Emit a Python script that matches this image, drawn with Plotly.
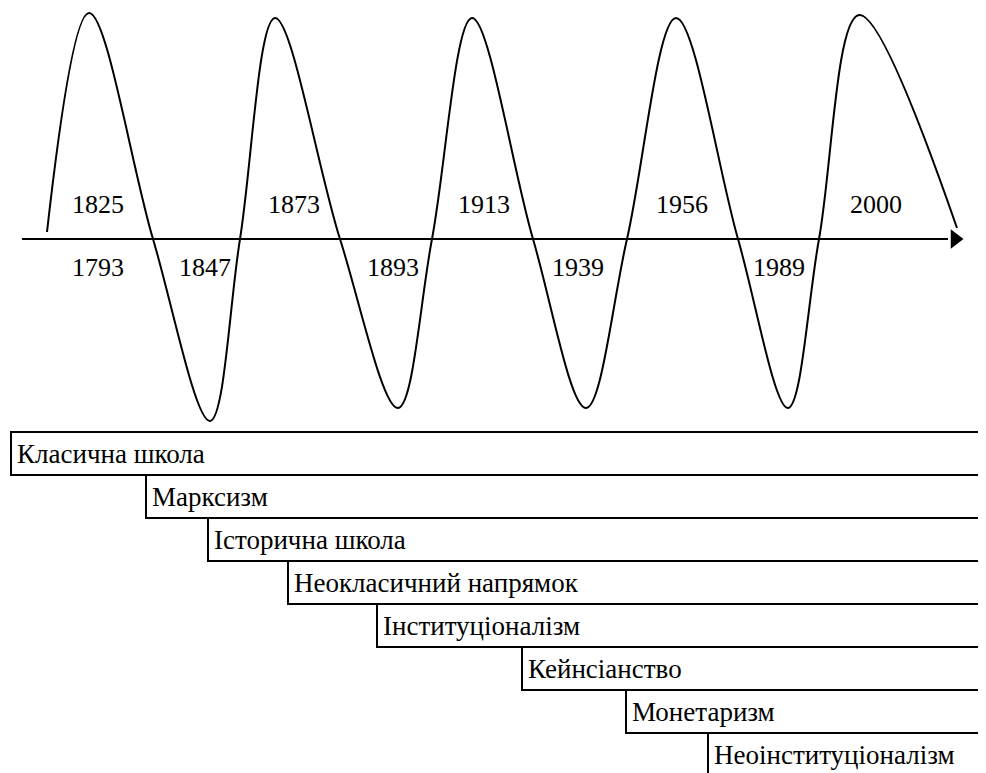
import plotly.graph_objects as go

# Wave key points (diagram units: x to the right, y downward as on the page)
wave_x = [47, 89, 153, 210, 240, 275, 340, 398, 432, 472, 533, 586, 627, 676, 738, 788, 819, 859, 957]
wave_y = [232, 13, 239, 421, 239, 18, 239, 408, 239, 18, 239, 408, 239, 18, 239, 408, 239, 15, 228]

axis_y = 239
axis_x = [22, 948]
arrow_tip = 955

years_top = ["1825", "1873", "1913", "1956", "2000"]
years_top_x = [98, 294, 484, 682, 876]
years_bottom = ["1793", "1847", "1893", "1939", "1989"]
years_bottom_x = [98, 205, 393, 578, 779]
top_label_y = 204
bottom_label_y = 267

schools = ["Класична школа", "Марксизм", "Історична школа", "Неокласичний напрямок",
           "Інституціоналізм", "Кейнсіанство", "Монетаризм", "Неоінституціоналізм"]
school_start = [11, 146, 208, 288, 377, 522, 626, 708]
row_top = 432
row_h = 43

W, H = 986, 773
OFF = 8  # page body margin
year_font = dict(family="Liberation Serif", size=26, color="black")
school_font = dict(family="Liberation Serif", size=27, color="black")

fig = go.Figure()
fig.add_trace(go.Scatter(x=wave_x, y=wave_y, mode="lines",
                         line=dict(color="black", width=2, shape="spline", smoothing=1.0),
                         hoverinfo="skip", showlegend=False))
fig.add_trace(go.Scatter(x=axis_x, y=[axis_y, axis_y], mode="lines",
                         line=dict(color="black", width=2), hoverinfo="skip", showlegend=False))
fig.add_trace(go.Scatter(x=[arrow_tip], y=[axis_y], mode="markers",
                         marker=dict(symbol="triangle-right", size=17, color="black"),
                         hoverinfo="skip", showlegend=False))

for t, x in zip(years_top, years_top_x):
    fig.add_annotation(x=x, y=top_label_y, text=t, showarrow=False, font=year_font,
                       xanchor="center", yanchor="middle")
for t, x in zip(years_bottom, years_bottom_x):
    fig.add_annotation(x=x, y=bottom_label_y, text=t, showarrow=False, font=year_font,
                       xanchor="center", yanchor="middle")

for i, (name, x0) in enumerate(zip(schools, school_start)):
    y0 = row_top + i * row_h
    fig.add_shape(type="rect", x0=x0, x1=W + 40, y0=y0, y1=y0 + row_h,
                  line=dict(color="black", width=2), fillcolor="white", layer="above")
    fig.add_annotation(x=x0 + 4, y=y0 + row_h / 2, text=name, showarrow=False, font=school_font,
                       xanchor="left", yanchor="middle")

fig.update_layout(width=W, height=H, margin=dict(l=0, r=0, t=0, b=0),
                  paper_bgcolor="white", plot_bgcolor="white",
                  xaxis=dict(range=[OFF, W + OFF], visible=False, fixedrange=True),
                  yaxis=dict(range=[H + OFF, OFF], visible=False, fixedrange=True))
fig.write_html("out.html")
